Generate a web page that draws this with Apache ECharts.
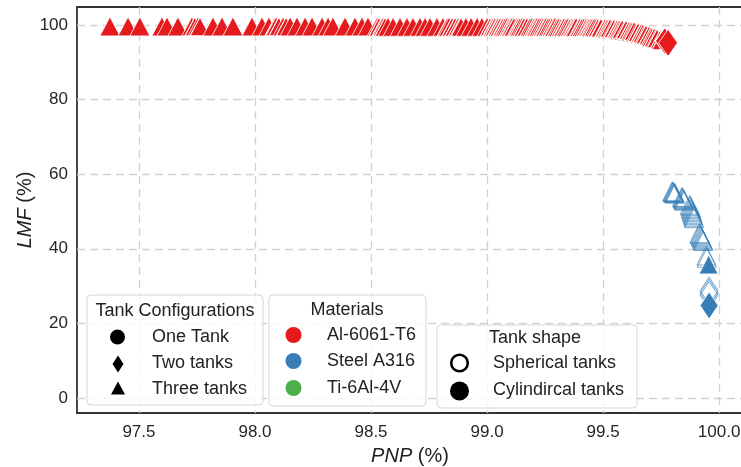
<!DOCTYPE html>
<html>
<head>
<meta charset="utf-8">
<script src="https://cdn.jsdelivr.net/npm/echarts@6/dist/echarts.min.js"></script>
<style>
  html, body { margin: 0; padding: 0; background: #fff; }
  #chart { width: 741px; height: 467px; }
</style>
</head>
<body>
<div id="chart"></div>
<script>
const RED = '#e41a1c';
const BLUE = '#377eb8';
const GREEN = '#4daf4a';
const FONT = '"Liberation Sans", Arial, sans-serif';

const xTicks = [97.5, 98.0, 98.5, 99.0, 99.5, 100.0];
const yTicks = [0, 20, 40, 60, 80, 100];

// Al-6061-T6, three tanks, cylindrical
const alThreeCylX = [
  97.375, 97.453, 97.504, 97.599, 97.621, 97.668, 97.728, 97.754, 97.819, 97.858,
  97.905, 97.987, 98.030, 98.060, 98.091, 98.121, 98.151, 98.181, 98.216, 98.246,
  98.289, 98.315, 98.336, 98.388, 98.431, 98.461, 98.487, 98.526, 98.552, 98.573,
  98.595, 98.625, 98.655, 98.681, 98.711, 98.733, 98.754, 98.784, 98.810, 98.836,
  98.862, 98.884, 98.909, 98.931, 98.957, 98.978, 99.000, 99.022, 99.043, 99.065,
  99.086, 99.108, 99.129, 99.151, 99.172, 99.194, 99.216, 99.233, 99.254, 99.272,
  99.293, 99.310, 99.332, 99.349, 99.366, 99.384, 99.401, 99.418, 99.435,
  99.453, 99.470, 99.487, 99.504, 99.522, 99.539, 99.556, 99.573, 99.591, 99.608,
  99.625, 99.642, 99.659, 99.677, 99.694, 99.711, 99.728
];
const alThreeCylY = [
  99.6, 99.6, 99.6, 99.6, 99.6, 99.6, 99.6, 99.6, 99.6, 99.6,
  99.6, 99.6, 99.6, 99.6, 99.6, 99.6, 99.6, 99.6, 99.6, 99.6,
  99.6, 99.6, 99.6, 99.6, 99.6, 99.6, 99.6, 99.5, 99.5, 99.5,
  99.5, 99.5, 99.5, 99.5, 99.5, 99.5, 99.5, 99.5, 99.5, 99.5,
  99.5, 99.5, 99.5, 99.5, 99.5, 99.5, 99.5, 99.5, 99.5, 99.5,
  99.5, 99.5, 99.5, 99.5, 99.5, 99.5, 99.5, 99.5, 99.5, 99.5,
  99.5, 99.4, 99.4, 99.4, 99.4, 99.4, 99.4, 99.4, 99.4,
  99.3, 99.3, 99.2, 99.1, 99.0, 98.9, 98.8, 98.6, 98.5, 98.3,
  98.1, 97.9, 97.6, 97.3, 97.0, 96.7, 96.4
];

// Al-6061-T6, three tanks, spherical
const alThreeSphX = [
  97.741, 97.763, 98.086, 98.103, 98.134, 98.534, 98.547, 98.560, 98.828, 98.849,
  98.862, 98.875, 98.888, 99.013, 99.026, 99.034, 99.047, 99.056, 99.069, 99.078,
  99.095, 99.103, 99.116, 99.134, 99.142, 99.159, 99.172, 99.185, 99.203, 99.211,
  99.224, 99.241, 99.250, 99.263, 99.280, 99.289, 99.302, 99.319, 99.328, 99.341,
  99.358, 99.371, 99.379, 99.397, 99.409, 99.427, 99.440, 99.448, 99.461, 99.478,
  99.491, 99.509, 99.517, 99.530, 99.547, 99.560, 99.569, 99.582, 99.599, 99.612,
  99.621, 99.634, 99.651, 99.664, 99.672, 99.685, 99.698, 99.707, 99.720, 99.733,
  99.746, 99.754
];
const alThreeSphY = [
  99.6, 99.6, 99.6, 99.6, 99.6, 99.5, 99.5, 99.5, 99.5, 99.5,
  99.5, 99.5, 99.5, 99.5, 99.5, 99.5, 99.5, 99.5, 99.5, 99.5,
  99.5, 99.5, 99.5, 99.5, 99.5, 99.5, 99.5, 99.5, 99.5, 99.5,
  99.5, 99.5, 99.5, 99.5, 99.5, 99.5, 99.4, 99.4, 99.4, 99.4,
  99.4, 99.4, 99.4, 99.4, 99.4, 99.4, 99.4, 99.4, 99.4, 99.3,
  99.3, 99.3, 99.2, 99.2, 99.1, 99.0, 99.0, 98.9, 98.8, 98.6,
  98.5, 98.4, 98.1, 97.9, 97.8, 97.5, 97.2, 97.0, 96.7, 96.4,
  96.1, 95.9
];

// Al-6061-T6, two tanks
const alTwoSphX = [99.766];
const alTwoSphY = [95.7];
const alTwoCylX = [99.780];
const alTwoCylY = [95.2];

// Steel A316, three tanks
const stThreeSphX = [
  99.798, 99.800, 99.802, 99.804, 99.806, 99.808, 99.810,
  99.840, 99.842, 99.844, 99.846, 99.848, 99.850,
  99.874, 99.876, 99.878, 99.880, 99.882, 99.884, 99.886, 99.888, 99.890, 99.892,
  99.915, 99.917, 99.920, 99.922, 99.925, 99.927, 99.930, 99.932,
  99.945, 99.947
];
const stThreeSphY = [
  55.4, 55.3, 55.2, 55.1, 55.0, 54.9, 54.8,
  53.9, 53.7, 53.5, 53.3, 53.1, 52.9,
  51.8, 51.4, 51.0, 50.6, 50.2, 49.8, 49.4, 49.0, 48.6, 48.2,
  44.2, 43.9, 43.6, 43.3, 43.0, 42.7, 42.4, 42.1,
  38.2, 37.6
];
const stThreeCylX = [99.955];
const stThreeCylY = [35.8];

// Steel A316, two tanks
const stTwoSphX = [99.957, 99.957, 99.957];
const stTwoSphY = [28.8, 28.2, 27.6];
const stTwoCylX = [99.957];
const stTwoCylY = [24.8];

// cylindrical tanks: solid marks with a white edge
const cylStyle = c => ({ color: c, borderColor: '#ffffff', borderWidth: 0.8, opacity: 1 });
// spherical tanks on the aluminium front: solid marks, wider white edge
const sphStyle = c => ({ color: c, borderColor: '#ffffff', borderWidth: 1.1, opacity: 1 });
// spherical tanks on the steel front: outline only
const sphOutline = c => ({ color: 'rgba(255,255,255,0)', borderColor: c, borderWidth: 0.7, opacity: 1 });

// interleave cylindrical and spherical points in order of PNP
function mergePoints(cylX, cylY, sphX, sphY, c) {
  const pts = [];
  cylX.forEach((x, i) => pts.push({ value: [x, cylY[i]], itemStyle: cylStyle(c) }));
  sphX.forEach((x, i) => pts.push({ value: [x, sphY[i]], itemStyle: sphStyle(c) }));
  pts.sort((a, b) => a.value[0] - b.value[0]);
  return pts;
}
function points(xs, ys, style) {
  return xs.map((x, i) => ({ value: [x, ys[i]], itemStyle: style }));
}

const chart = echarts.init(document.getElementById('chart'), null, { renderer: 'canvas' });

const diamondPts = (cx, cy, w, h) => [[cx, cy - h / 2], [cx + w / 2, cy], [cx, cy + h / 2], [cx - w / 2, cy]];
const trianglePts = (cx, cy, w, h) => [[cx, cy - h / 2], [cx + w / 2, cy + h / 2], [cx - w / 2, cy + h / 2]];
const txt = (s, x, y, align) => ({
  type: 'text', x: x, y: y, z: 101,
  style: { text: s, font: '18px ' + FONT, fill: '#222', align: align || 'left', verticalAlign: 'middle',
           textAlign: align || 'left', textVerticalAlign: 'middle' }
});
const box = (x, y, w, h) => ({
  type: 'rect', z: 100, shape: { x: x, y: y, width: w, height: h, r: 4 },
  style: { fill: 'rgba(255,255,255,0.8)', stroke: '#d6d6d6', lineWidth: 1 }
});

const legendGraphics = [
  // Tank Configurations
  box(87, 295, 176, 110),
  txt('Tank Configurations', 175, 311, 'center'),
  { type: 'circle', z: 101, shape: { cx: 117.5, cy: 337, r: 7.5 }, style: { fill: '#000' } },
  txt('One Tank', 152, 337),
  { type: 'polygon', z: 101, shape: { points: diamondPts(118, 364, 11, 17) }, style: { fill: '#000' } },
  txt('Two tanks', 152, 363),
  { type: 'polygon', z: 101, shape: { points: trianglePts(118, 388, 14, 13) }, style: { fill: '#000' } },
  txt('Three tanks', 152, 389),
  // Materials
  box(269, 295, 157, 111),
  txt('Materials', 347, 310, 'center'),
  { type: 'circle', z: 101, shape: { cx: 293.5, cy: 335, r: 8 }, style: { fill: RED } },
  txt('Al-6061-T6', 327, 335),
  { type: 'circle', z: 101, shape: { cx: 293.5, cy: 361, r: 8 }, style: { fill: BLUE } },
  txt('Steel A316', 327, 361),
  { type: 'circle', z: 101, shape: { cx: 293.5, cy: 388, r: 8 }, style: { fill: GREEN } },
  txt('Ti-6Al-4V', 327, 388),
  // Tank shape
  box(437, 325, 200, 83),
  txt('Tank shape', 535, 338, 'center'),
  { type: 'circle', z: 101, shape: { cx: 459.5, cy: 363, r: 8.3 }, style: { fill: '#fff', stroke: '#000', lineWidth: 2.6 } },
  txt('Spherical tanks', 493, 363),
  { type: 'circle', z: 101, shape: { cx: 459.5, cy: 391, r: 9.5 }, style: { fill: '#000' } },
  txt('Cylindircal tanks', 493, 390)
];

const option = {
  animation: false,
  backgroundColor: '#ffffff',
  textStyle: { fontFamily: FONT },
  grid: {
    left: 77, right: -2, top: 7, bottom: 54, containLabel: false, outerBoundsMode: 'none',
    show: true, borderColor: '#333333', borderWidth: 1.8, backgroundColor: 'transparent'
  },
  xAxis: {
    type: 'value', min: 97.233, max: 100.103,
    name: '{i|PNP} (%)', nameLocation: 'middle', nameGap: 33, nameMoveOverlap: false,
    nameTextStyle: { fontSize: 20, color: '#222', fontFamily: FONT,
      rich: { i: { fontStyle: 'italic', fontSize: 20, color: '#222', fontFamily: FONT } } },
    axisLine: { show: false },
    axisTick: { show: false, customValues: xTicks },
    axisLabel: { customValues: xTicks, fontSize: 17, color: '#262626', margin: 11,
                 formatter: v => v.toFixed(1) },
    splitLine: { show: true, lineStyle: { color: '#d2d2d2', width: 1.3, type: [8, 5] } }
  },
  yAxis: {
    type: 'value', min: -4.0, max: 104.8,
    name: '{i|LMF} (%)', nameLocation: 'middle', nameGap: 42, nameRotate: 90, nameMoveOverlap: false,
    nameTextStyle: { fontSize: 20, color: '#222', fontFamily: FONT,
      rich: { i: { fontStyle: 'italic', fontSize: 20, color: '#222', fontFamily: FONT } } },
    axisLine: { show: false },
    axisTick: { show: false, customValues: yTicks },
    axisLabel: { customValues: yTicks, fontSize: 17, color: '#262626', margin: 9 },
    splitLine: { show: true, lineStyle: { color: '#d2d2d2', width: 1.3, type: [8, 5] } }
  },
  series: [
    {
      name: 'Al-6061-T6 three tanks', type: 'scatter', symbol: 'triangle', symbolSize: [20, 19],
      data: mergePoints(alThreeCylX, alThreeCylY, alThreeSphX, alThreeSphY, RED), z: 3
    },
    {
      name: 'Al-6061-T6 two tanks', type: 'scatter', symbol: 'diamond', symbolSize: [19, 27],
      data: points(alTwoSphX, alTwoSphY, sphStyle(RED)).concat(points(alTwoCylX, alTwoCylY, cylStyle(RED))), z: 4
    },
    {
      name: 'Steel A316 three tanks', type: 'scatter', symbol: 'triangle', symbolSize: [19, 19],
      data: points(stThreeSphX, stThreeSphY, sphOutline(BLUE)).concat(points(stThreeCylX, stThreeCylY, cylStyle(BLUE))), z: 3
    },
    {
      name: 'Steel A316 two tanks', type: 'scatter', symbol: 'diamond', symbolSize: [18, 27],
      data: points(stTwoSphX, stTwoSphY, sphOutline(BLUE)).concat(points(stTwoCylX, stTwoCylY, cylStyle(BLUE))), z: 4
    }
  ],
  graphic: { elements: legendGraphics }
};

chart.setOption(option);
</script>
</body>
</html>
